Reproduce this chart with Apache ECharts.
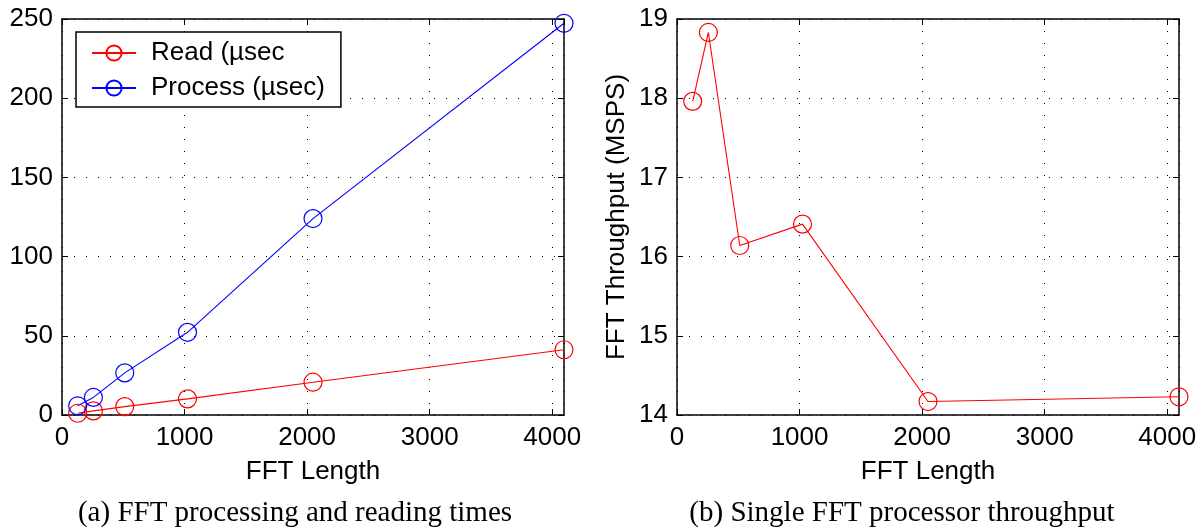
<!DOCTYPE html>
<html>
<head>
<meta charset="utf-8">
<script src="https://cdn.jsdelivr.net/npm/echarts@6/dist/echarts.min.js"></script>
<style>
html,body{margin:0;padding:0;background:#fff;}
#chart{width:1202px;height:529px;}
</style>
</head>
<body>
<div id="chart"></div>
<script>
// ---- data ----
const fftLength = [128, 256, 512, 1024, 2048, 4096];
const readUsec = [1.1, 2.6, 5.3, 10.2, 20.7, 41.2];
const processUsec = [5.8, 11.1, 26.6, 52.2, 124.0, 247.3];
const throughputMsps = [17.96, 18.83, 16.14, 16.41, 14.17, 14.23];
const seriesNames = ['Read (\u00b5sec', 'Process (\u00b5sec)', 'Throughput'];
const captions = ['(a) FFT processing and reading times', '(b) Single FFT processor throughput'];
const xAxisName = 'FFT Length';
const yAxisNameRight = 'FFT Throughput (MSPS)';

const FONT = 'Liberation Sans, Arial, Helvetica, sans-serif';
const FS = 26;
const pairs = ys => fftLength.map((x, i) => [x, ys[i]]);

const gridLine = { show: true, lineStyle: { color: '#000', width: 1, type: [1, 11] } };
const axisLine = { show: true, onZero: false, lineStyle: { color: '#000', width: 1.5 } };
const tick = { show: true, inside: true, length: 6, lineStyle: { color: '#000', width: 1 } };
const label = { color: '#000', fontFamily: FONT, fontSize: FS };

function xAxes(gridIndex) {
  return [
    {
      gridIndex, type: 'value', position: 'bottom', min: 0, max: 4096, interval: 1000,
      axisLine, axisTick: tick, splitLine: gridLine,
      axisLabel: Object.assign({ margin: 10, showMaxLabel: false,
        formatter: v => (v % 1000 === 0 ? String(v) : '') }, label),
      name: xAxisName, nameLocation: 'middle', nameGap: 44,
      nameTextStyle: { color: '#000', fontFamily: FONT, fontSize: FS }
    },
    {
      gridIndex, type: 'value', position: 'top', min: 0, max: 4096, interval: 1000,
      axisLine, axisTick: tick, splitLine: { show: false }, axisLabel: { show: false }
    }
  ];
}
function yAxes(gridIndex, min, max, interval, name) {
  const main = {
    gridIndex, type: 'value', position: 'left', min, max, interval,
    axisLine, axisTick: tick, splitLine: gridLine,
    axisLabel: Object.assign({ margin: 9 }, label)
  };
  if (name) {
    main.name = name;
    main.nameLocation = 'middle';
    main.nameGap = 47;
    main.nameTextStyle = { color: '#000', fontFamily: FONT, fontSize: FS };
  }
  return [main, {
    gridIndex, type: 'value', position: 'right', min, max, interval,
    axisLine, axisTick: tick, splitLine: { show: false }, axisLabel: { show: false }
  }];
}

function lineSeries(name, data, color, xi, yi) {
  return {
    name, type: 'line', data, xAxisIndex: xi, yAxisIndex: yi,
    color, symbol: 'circle', symbolSize: 18, clip: false,
    lineStyle: { color, width: 1.1 },
    itemStyle: { color: 'rgba(255,255,255,0)', borderColor: color, borderWidth: 1.2 },
    emphasis: { disabled: true }, animation: false
  };
}

const chart = echarts.init(document.getElementById('chart'), null, { renderer: 'canvas' });
chart.setOption({
  animation: false,
  backgroundColor: '#fff',
  grid: [
    { left: 62, right: 638, top: 19, bottom: 114 },
    { left: 677, right: 23, top: 19, bottom: 114 }
  ],
  xAxis: xAxes(0).concat(xAxes(1)),
  yAxis: yAxes(0, 0, 250, 50).concat(yAxes(1, 14, 19, 1, yAxisNameRight)),
  legend: {
    data: [seriesNames[0], seriesNames[1]],
    orient: 'vertical', left: 76, top: 32,
    padding: [8, 16, 6, 15],
    itemWidth: 44, itemHeight: 19, itemGap: 9,
    borderColor: '#000', borderWidth: 1.5, backgroundColor: '#fff',
    textStyle: { color: '#000', fontFamily: FONT, fontSize: FS, padding: [0, 0, 0, 10] },
    selectedMode: false
  },
  series: [
    lineSeries(seriesNames[0], pairs(readUsec), '#ff0000', 0, 0),
    lineSeries(seriesNames[1], pairs(processUsec), '#0000ff', 0, 0),
    lineSeries(seriesNames[2], pairs(throughputMsps), '#ff0000', 2, 2)
  ],
  graphic: [
    { type: 'text', x: 295, y: 513, style: { text: captions[0], align: 'center', verticalAlign: 'middle',
      fontFamily: 'Liberation Serif, DejaVu Serif, serif', fontSize: 29, fill: '#000' } },
    { type: 'text', x: 902, y: 513, style: { text: captions[1], align: 'center', verticalAlign: 'middle',
      fontFamily: 'Liberation Serif, DejaVu Serif, serif', fontSize: 29, fill: '#000' } }
  ]
});
</script>
</body>
</html>
